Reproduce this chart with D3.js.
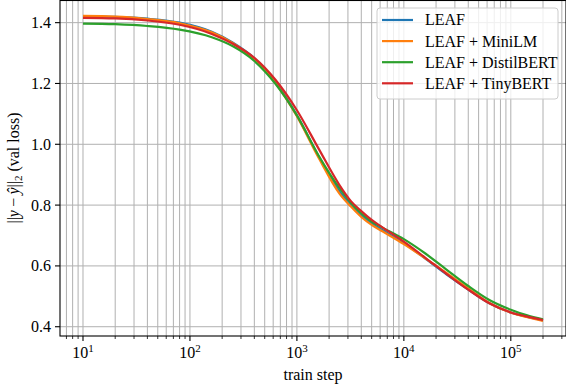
<!DOCTYPE html>
<html>
<head>
<meta charset="utf-8">
<script src="https://cdn.jsdelivr.net/npm/d3@7"></script>
<style>
  html, body { margin: 0; padding: 0; background: #fff; }
  svg { display: block; }
  text { font-family: "Liberation Serif", "Times New Roman", serif; fill: #000; }
</style>
</head>
<body>
<svg id="chart" width="566" height="389"></svg>
<script>
// ---------- data ----------
const steps = [10, 20, 40, 80, 160, 250, 400, 630, 1000, 1600, 2500, 3200, 4000, 5000, 6300, 10000, 16000, 25000, 40000, 63000, 100000, 140000, 200000];
const leaf       = [1.421, 1.419, 1.413, 1.400, 1.370, 1.335, 1.283, 1.205, 1.095, 0.960, 0.845, 0.800, 0.766, 0.740, 0.718, 0.675, 0.623, 0.572, 0.522, 0.477, 0.447, 0.433, 0.421];
const miniLM     = [1.422, 1.420, 1.412, 1.398, 1.368, 1.333, 1.280, 1.202, 1.092, 0.955, 0.838, 0.795, 0.761, 0.735, 0.714, 0.672, 0.624, 0.577, 0.526, 0.478, 0.447, 0.432, 0.419];
const distilBERT = [1.397, 1.395, 1.389, 1.377, 1.352, 1.323, 1.274, 1.199, 1.095, 0.962, 0.856, 0.808, 0.773, 0.746, 0.726, 0.688, 0.640, 0.588, 0.534, 0.488, 0.456, 0.438, 0.424];
const tinyBERT   = [1.416, 1.414, 1.407, 1.393, 1.363, 1.331, 1.284, 1.212, 1.112, 0.985, 0.866, 0.813, 0.780, 0.751, 0.727, 0.680, 0.626, 0.574, 0.522, 0.477, 0.447, 0.434, 0.422];
const seriesNames = ["LEAF", "LEAF + MiniLM", "LEAF + DistilBERT", "LEAF + TinyBERT"];
const seriesColors = ["#1f77b4", "#ff7f0e", "#2ca02c", "#d62728"];
const yTicks = [0.4, 0.6, 0.8, 1.0, 1.2, 1.4];
const xMajorExps = [1, 2, 3, 4, 5];
const xLabel = "train step";

// ---------- layout ----------
const svg = d3.select("#chart");
const L = 60, R = 566, T = 0, B = 336;
const fs = 16;

const x = d3.scaleLog().domain([Math.pow(10, 0.785), Math.pow(10, 5.516)]).range([L, R]);
const y = d3.scaleLinear().domain([0.3695, 1.4745]).range([B, T]);

// minor ticks
const [xd0, xd1] = x.domain();
const minorTicks = [];
for (let e = 0; e <= 5; e++) {
  for (let m = 1; m <= 9; m++) {
    const v = m * Math.pow(10, e);
    if (v >= xd0 && v <= xd1) minorTicks.push(v);
  }
}
const majorTicks = xMajorExps.map(e => Math.pow(10, e));

// grid
const grid = svg.append("g").attr("stroke", "#b0b0b0").attr("stroke-width", 1).attr("fill", "none");
minorTicks.forEach(v => {
  grid.append("line").attr("x1", x(v)).attr("x2", x(v)).attr("y1", T).attr("y2", B);
});
yTicks.forEach(v => {
  grid.append("line").attr("x1", L).attr("x2", R).attr("y1", y(v)).attr("y2", y(v));
});

// lines
const series = [leaf, miniLM, distilBERT, tinyBERT];
const line = d3.line()
  .x((d, i) => x(steps[i]))
  .y(d => y(d))
  .curve(d3.curveMonotoneX);
series.forEach((s, k) => {
  svg.append("path")
    .datum(s)
    .attr("d", line)
    .attr("fill", "none")
    .attr("stroke", seriesColors[k])
    .attr("stroke-width", 2.2)
    .attr("stroke-linejoin", "round");
});

// frame
svg.append("rect").attr("x", L).attr("y", T + 0.5).attr("width", R - L).attr("height", B - T - 0.5)
  .attr("fill", "none").attr("stroke", "#000").attr("stroke-width", 1.1);

// x axis ticks
const xAxis = svg.append("g");
minorTicks.forEach(v => {
  const isMajor = majorTicks.includes(v);
  xAxis.append("line").attr("x1", x(v)).attr("x2", x(v))
    .attr("y1", B).attr("y2", B + (isMajor ? 5 : 3))
    .attr("stroke", "#000").attr("stroke-width", isMajor ? 1.1 : 0.8);
});
xMajorExps.forEach(e => {
  const t = xAxis.append("text")
    .attr("x", x(Math.pow(10, e)))
    .attr("y", B + 22)
    .attr("text-anchor", "middle")
    .attr("font-size", fs);
  t.append("tspan").text("10");
  t.append("tspan").attr("font-size", 11).attr("dy", -6).text(String(e));
});

// y axis ticks
const yAxis = svg.append("g");
yTicks.forEach(v => {
  yAxis.append("line").attr("x1", L - 5).attr("x2", L).attr("y1", y(v)).attr("y2", y(v))
    .attr("stroke", "#000").attr("stroke-width", 1.1);
  yAxis.append("text")
    .attr("x", L - 9)
    .attr("y", y(v))
    .attr("dy", "0.34em")
    .attr("text-anchor", "end")
    .attr("font-size", fs)
    .text(v.toFixed(1));
});

// axis labels
svg.append("text")
  .attr("x", (L + R) / 2)
  .attr("y", 380)
  .attr("text-anchor", "middle")
  .attr("font-size", fs)
  .text(xLabel);

const yl = svg.append("text")
  .attr("transform", `translate(19, ${(T + B) / 2}) rotate(-90)`)
  .attr("text-anchor", "middle")
  .attr("font-size", fs);
yl.append("tspan").text("||");
yl.append("tspan").attr("font-style", "italic").text("y");
yl.append("tspan").text("\u2009\u2212\u2009");
yl.append("tspan").attr("font-style", "italic").text("\u0177");
yl.append("tspan").text("||");
yl.append("tspan").attr("font-size", 11).attr("dy", 3).text("2");
yl.append("tspan").attr("dy", -3).text(" (val loss)");

// legend
const lg = svg.append("g");
lg.append("rect")
  .attr("x", 377).attr("y", 8).attr("width", 181).attr("height", 91)
  .attr("rx", 3).attr("ry", 3)
  .attr("fill", "#fff").attr("fill-opacity", 0.8)
  .attr("stroke", "#cccccc").attr("stroke-width", 1);
seriesNames.forEach((name, k) => {
  const cy = 20 + k * 21.1;
  lg.append("line").attr("x1", 382).attr("x2", 413).attr("y1", cy).attr("y2", cy)
    .attr("stroke", seriesColors[k]).attr("stroke-width", 2.2);
  lg.append("text").attr("x", 425).attr("y", cy).attr("dy", "0.34em")
    .attr("font-size", fs).text(name);
});
</script>
</body>
</html>
